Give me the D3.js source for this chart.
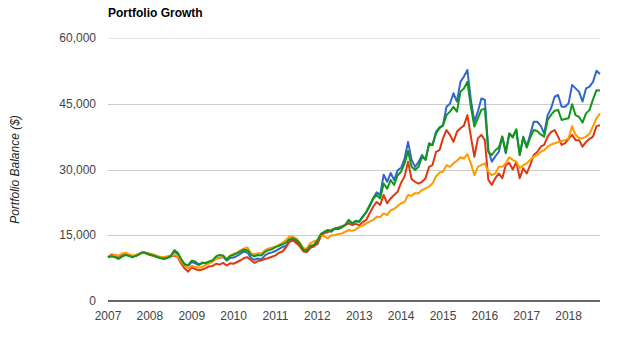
<!DOCTYPE html>
<meta charset="utf-8">
<head>
<script src="https://d3js.org/d3.v7.min.js"></script>
<style>
  body { margin: 0; background: #fff; }
  text { font-family: Arial, "Liberation Sans", sans-serif; }
</style>
</head>
<body>
<svg id="chart" width="621" height="339"></svg>
<script>

// monthly balances, Jan 2007 .. Oct 2018
var startYear = 2007;
var tickYears = [2007, 2008, 2009, 2010, 2011, 2012, 2013, 2014, 2015, 2016, 2017, 2018];
var yTicks = [0, 15000, 30000, 45000, 60000];

var portfolio1 = [ // blue
  10000, 10300, 10100, 9700, 10200, 10600, 10400, 10100, 10300, 10800, 11200, 10900,
  10700, 10500, 10200, 9800, 9600, 9800, 10200, 11300, 10700, 9400, 8400, 8100,
  8900, 8600, 8200, 8800, 8500, 8900, 9100, 9700, 9800, 10100, 9200, 9800,
  9900, 10300, 10800, 11300, 11000, 9800, 9400, 9700, 9500, 10400, 10900, 11100,
  11400, 11900, 12300, 12600, 13600, 14100, 13700, 12800, 11600, 11200, 12200, 12400,
  13300, 15100, 15600, 16000, 15800, 16500, 16400, 16800, 17400, 18300, 17700, 18200,
  18100, 19200, 20200, 21600, 23500, 24800, 24200, 28800, 27200, 29200, 27600, 29800,
  30400, 32500, 36300, 32200, 30600, 31700, 33300, 32200, 35600, 35600, 38600, 39600,
  40100, 44300, 45000, 47400, 45500, 50000, 51200, 52700, 45800, 40900, 43200, 46200,
  45900, 34400, 31800, 33000, 34000, 37500, 33700, 38200, 37500, 39000, 33300, 37500,
  35300, 38000, 40900, 40900, 40000, 38200, 42400, 44000, 46600, 47000, 44300, 44300,
  45100, 49300, 48500, 47700, 45500, 48500, 48900, 50000, 52500, 51800
];

var portfolio2 = [ // red
  10000, 10600, 10500, 10200, 10500, 10800, 10400, 10100, 10300, 10700, 11100, 10800,
  10500, 10300, 10000, 9900, 9800, 10000, 10200, 10400, 10000, 8500, 7400, 6700,
  7700, 7300, 7000, 7200, 7500, 7900, 8000, 8500, 8300, 8700, 8100, 8600,
  8500, 8900, 9300, 9800, 10000, 9300, 8700, 9100, 9300, 9600, 9800, 10100,
  10400, 11000, 11300, 12200, 13500, 13800, 13200, 12400, 11300, 11200, 12100, 12600,
  13000, 14700, 15500, 15700, 16200, 16500, 16800, 17000, 17300, 17700, 17300, 17600,
  17300, 18000, 18500, 20000, 21500, 22600, 21900, 24200, 22300, 23400, 24200, 24900,
  27000, 28400, 31800, 27800, 27200, 26800, 27200, 28000, 30600, 31000, 34000, 34400,
  37100, 39000, 37900, 36300, 38600, 39400, 40000, 42400, 37500, 32900, 37100, 37900,
  36700, 27600, 26500, 28000, 29100, 28000, 31000, 31500, 30000, 31700, 28000, 30300,
  29100, 31000, 33300, 34000, 35200, 35600, 37500, 38600, 39000, 37500, 35600, 36000,
  37000, 37900, 36700, 36700, 35200, 36300, 37000, 37500, 39900, 40100
];

var portfolio3 = [ // orange
  10000, 10400, 10500, 10300, 10800, 11000, 10700, 10400, 10500, 10800, 11200, 11000,
  10800, 10600, 10300, 10100, 10000, 10200, 10300, 10600, 10200, 9000, 8000, 7500,
  8000, 7800, 7600, 7800, 8200, 8600, 9000, 9700, 9900, 10200, 9700, 10300,
  10800, 11000, 11600, 12000, 12200, 10900, 10700, 10900, 10900, 11600, 12000, 12200,
  12400, 12800, 13300, 13900, 14700, 14600, 14300, 13200, 12000, 12000, 13200, 13600,
  13900, 15000, 14700, 14300, 15000, 15000, 15300, 15400, 15800, 16200, 16000, 16300,
  16900, 17200, 17700, 18100, 18500, 19200, 19100, 20000, 19600, 20700, 21000, 21700,
  22300, 22600, 24200, 24000, 24600, 24600, 25300, 25700, 26100, 26800, 28400, 29300,
  29500, 31000, 30600, 31400, 32000, 32800, 32500, 33500, 31400, 28700, 30600, 31000,
  31400, 29500, 28700, 29100, 30600, 30600, 31400, 32800, 32200, 31800, 30300, 31000,
  31400, 32200, 32900, 33300, 34000, 34400, 35200, 35700, 36000, 36200, 36500, 36700,
  37100, 39900, 37900, 37200, 37100, 37500, 38200, 39900, 41700, 42800
];

var portfolio4 = [ // green
  10000, 10200, 10000, 9600, 10100, 10500, 10300, 10000, 10300, 10700, 11100, 10900,
  10600, 10400, 10100, 9800, 9700, 9900, 10300, 11600, 11000, 9500, 8300, 8200,
  9200, 9000, 8300, 8600, 8700, 9000, 9300, 10200, 10500, 10400, 9400, 10300,
  10500, 10900, 11300, 11700, 11600, 10500, 10200, 10500, 10400, 11200, 11600, 11800,
  12300, 12600, 12900, 13300, 14100, 14300, 13900, 13100, 11700, 11600, 12600, 12800,
  13800, 15300, 15800, 16200, 16000, 16600, 16400, 17000, 17300, 18500, 17700, 18300,
  18100, 19300, 20300, 21900, 23300, 24200, 23400, 26800, 25600, 27600, 26500, 28700,
  29500, 31400, 34200, 30600, 29900, 30600, 32900, 32200, 36000, 35600, 38200, 39400,
  40000, 42400, 43200, 44300, 43200, 47700, 48500, 50000, 44300, 39800, 41700, 43600,
  43900, 34000, 33300, 34400, 35000, 37500, 34000, 38200, 37300, 39200, 33300, 37300,
  35000, 37300, 39000, 38800, 38000, 37500, 41300, 42500, 43400, 43600, 41300, 41500,
  41700, 44900, 42400, 42000, 40700, 42800, 43600, 46000, 48100, 48000
];

// drawn in this order, green ends up on top
var seriesList = [
  { values: portfolio1, color: "#3366cc" },
  { values: portfolio2, color: "#dc3912" },
  { values: portfolio3, color: "#ff9900" },
  { values: portfolio4, color: "#109618" }
];

var svg = d3.select("#chart");
var plotLeft = 108, plotRight = 600, plotTop = 38, plotBottom = 301;
var nMonths = portfolio1.length;

var x = d3.scaleLinear()
  .domain([0, nMonths - 1])
  .range([plotLeft, plotRight]);

var y = d3.scaleLinear()
  .domain([0, 60000])
  .range([plotBottom, plotTop]);

// title
svg.append("text")
  .attr("x", plotLeft)
  .attr("y", 17)
  .attr("font-size", 12)
  .attr("font-weight", "bold")
  .attr("fill", "#000")
  .text("Portfolio Growth");

// gridlines
svg.append("g")
  .selectAll("line")
  .data(yTicks.filter(function(d) { return d > 0; }))
  .enter()
  .append("line")
    .attr("x1", plotLeft)
    .attr("x2", plotRight)
    .attr("y1", function(d) { return Math.round(y(d)) + 0.5; })
    .attr("y2", function(d) { return Math.round(y(d)) + 0.5; })
    .attr("stroke", function(d) { return d == 60000 ? "#e6e6e6" : "#cccccc"; })
    .attr("stroke-width", 1);

// y tick labels
svg.append("g")
  .selectAll("text")
  .data(yTicks)
  .enter()
  .append("text")
    .attr("x", 96)
    .attr("y", function(d) { return y(d) + 4; })
    .attr("text-anchor", "end")
    .attr("font-size", 12)
    .attr("fill", "#444")
    .text(function(d) { return d3.format(",")(d); });

// x tick labels
svg.append("g")
  .selectAll("text")
  .data(tickYears)
  .enter()
  .append("text")
    .attr("x", function(d) { return x((d - startYear) * 12); })
    .attr("y", 320)
    .attr("text-anchor", "middle")
    .attr("font-size", 12)
    .attr("fill", "#444")
    .text(function(d) { return d; });

// y axis title
svg.append("text")
  .attr("transform", "translate(19," + ((plotTop + plotBottom) / 2) + ") rotate(-90)")
  .attr("text-anchor", "middle")
  .attr("font-size", 12)
  .attr("font-style", "italic")
  .attr("fill", "#222")
  .text("Portfolio Balance ($)");

// lines
var line = d3.line()
  .x(function(d, i) { return x(i); })
  .y(function(d) { return y(d); });

svg.append("g")
  .selectAll("path")
  .data(seriesList)
  .enter()
  .append("path")
    .attr("d", function(s) { return line(s.values); })
    .attr("fill", "none")
    .attr("stroke", function(s) { return s.color; })
    .attr("stroke-width", 2)
    .attr("stroke-linejoin", "round");

// baseline at zero
svg.append("line")
  .attr("x1", plotLeft)
  .attr("x2", plotRight)
  .attr("y1", y(0))
  .attr("y2", y(0))
  .attr("stroke", "#333")
  .attr("stroke-width", 1.5);

</script>
</body>
